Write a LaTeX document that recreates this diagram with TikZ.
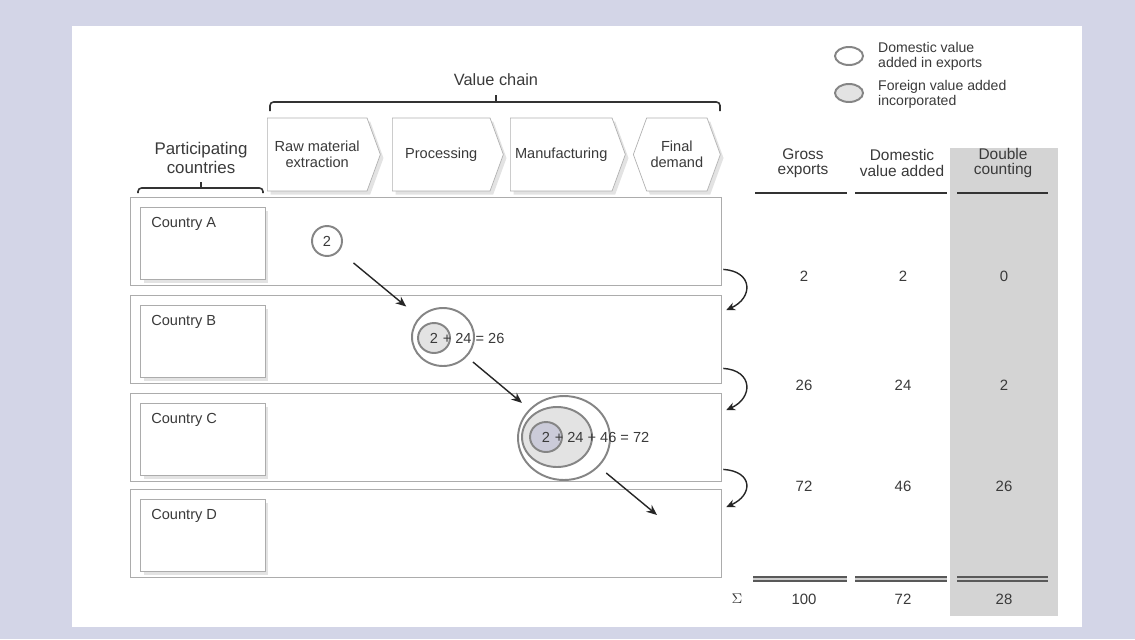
\documentclass[tikz,border=0pt]{standalone}
\usepackage{fontspec}
\setmainfont{Liberation Sans}
\usetikzlibrary{shapes.geometric,shapes.symbols,shadows,arrows.meta,calc}

\definecolor{lavender}{HTML}{D3D5E7}
\definecolor{ink}{HTML}{3A3A3A}
\definecolor{ringgray}{HTML}{858585}
\definecolor{colgray}{HTML}{D4D4D4}
\definecolor{foreign}{HTML}{E3E3E3}
\definecolor{foreigndeep}{HTML}{CBCBD9}

\begin{document}
\begin{tikzpicture}[x=0.02cm,y=-0.02cm,
  font=\fontsize{8.3}{9.3}\selectfont,text=ink,
  boxshadow/.style={drop shadow={opacity=.22,shadow xshift=1.8pt,shadow yshift=-2pt}},
  stage/.style={signal,signal to=east,signal pointer angle=140,draw=gray!60,
    fill=white,align=center,anchor=west,minimum height=1.46cm,inner sep=1pt,boxshadow},
  rowbox/.style={draw=gray!65,line width=.8pt,anchor=north west,
    minimum width=11.82cm,minimum height=1.76cm},
  cbox/.style={draw=gray!65,fill=white,anchor=north west,
    minimum width=2.5cm,minimum height=1.44cm,boxshadow},
  ctext/.style={anchor=base west,inner sep=0pt},
  ring/.style={ellipse,draw=ringgray,line width=1.1pt,inner sep=0pt},
  sumtext/.style={anchor=west,inner sep=0pt},
  flow/.style={-{Stealth[length=6pt,width=5pt]},line width=.8pt,black!85},
  hop/.style={-{Stealth[length=5pt,width=4.5pt]},line width=.8pt,black!85},
  head/.style={align=center,font=\fontsize{8.8}{8.8}\selectfont},
  num/.style={font=\fontsize{8.5}{8.5}\selectfont},
  rule/.style={line width=1.3pt,black!80},
  total/.style={double=gray!40,double distance=1.1pt,line width=.9pt,draw=black!65},
  bracket/.style={line width=.9pt,black!80,rounded corners=2pt}]

  % frame
  \fill[lavender] (0,0) rectangle (1135,639);
  \fill[white] (72,26) rectangle (1082,627);
  \useasboundingbox (0,0) rectangle (1135,639);

  % double counting column
  \fill[colgray] (950,148) rectangle (1058,616);

  % legend
  \node[ring,minimum width=.56cm,minimum height=.36cm,fill=white] (legdom) at (849,56) {};
  \node[ring,minimum width=.56cm,minimum height=.36cm,fill=foreign] (legfor) at (849,93) {};
  \node[anchor=west,align=left,font=\fontsize{8}{8.6}\selectfont] (legdomtext) at (872,56) {Domestic value\\added in exports};
  \node[anchor=west,align=left,font=\fontsize{8}{8.6}\selectfont] (legfortext) at (872,94) {Foreign value added\\incorporated};

  % value chain
  \node[font=\fontsize{9.3}{9.3}\selectfont] (chain) at (496,80) {Value chain};
  \draw[bracket] (270,111) -- (270,102) -- (720,102) -- (720,111);
  \draw[bracket] (496,102) -- (496,95);
  \node[stage,minimum width=2.26cm] (raw) at (267,154.5) {Raw material\\extraction};
  \node[stage,minimum width=2.22cm] (proc) at (392,154.5) {Processing};
  \node[stage,minimum width=2.30cm] (manu) at (510,154.5) {Manufacturing};
  \node[stage,signal to=east and west,minimum width=1.74cm] (final) at (633,154.5) {Final\\demand};

  % participating countries
  \node[align=center,font=\fontsize{9.6}{10.4}\selectfont] (part) at (201,158) {Participating\\countries};
  \draw[bracket] (138,193) -- (138,188) -- (263,188) -- (263,193);
  \draw[bracket] (201,188) -- (201,182);

  \foreach \c/\y in {A/197,B/295,C/393,D/489} {
    \node[rowbox] (row\c) at (130,\y) {};
    \node[cbox] (box\c) at (140,\y+10) {};
    \node[ctext] (name\c) at (151,\y+30) {Country \c};
  }

  % value added rings
  \node[ring,minimum size=.6cm] (ringA) at (327,241) {2};

  \node[ring,minimum width=1.24cm,minimum height=1.16cm] (outerB) at (443,337) {};
  \node[ring,fill=foreign,minimum width=.64cm,minimum height=.6cm] (innerB) at (434,338) {2};
  \node[sumtext] (sumB) at ([xshift=4.8pt]innerB.center) {+ 24 = 26};

  \node[ring,minimum width=1.84cm,minimum height=1.68cm] (outerC) at (564,438) {};
  \node[ring,fill=foreign,minimum width=1.4cm,minimum height=1.2cm] (midC) at (557,437) {};
  \node[ring,fill=foreigndeep,minimum width=.64cm,minimum height=.6cm] (innerC) at (546,437) {2};
  \node[sumtext] (sumC) at ([xshift=4.8pt]innerC.center) {+ 24 + 46 = 72};

  \coordinate (endD) at (657,515);
  \draw[flow,shorten <=10.5pt,shorten >=9.5pt] (ringA) -- (outerB);
  \draw[flow,shorten <=4.5pt,shorten >=5.5pt] (outerB) -- (outerC);
  \draw[flow,shorten <=5.5pt] (outerC) -- (endD);

  % hand-over between countries
  \draw[hop] ($(rowA.south east)+(1,-17)$) .. controls +(30,2) and +(27,-12) .. ($(rowB.north east)+(4,15)$);
  \draw[hop] ($(rowB.south east)+(1,-16)$) .. controls +(30,2) and +(27,-12) .. ($(rowC.north east)+(4,17)$);
  \draw[hop] ($(rowC.south east)+(1,-13)$) .. controls +(30,2) and +(27,-12) .. ($(rowD.north east)+(4,18)$);

  % table
  \node[head] (gross) at (803,163) {Gross\\exports};
  \node[head] (dva) at (902,163) {Domestic\\value added};
  \node[head] (dbl) at (1003,163) {Double\\counting};
  \draw[rule] (755,193) -- (847,193);
  \draw[rule] (855,193) -- (947,193);
  \draw[rule] (957,193) -- (1048,193);

  \foreach \g/\d/\b/\y in {2/2/0/276,26/24/2/385,72/46/26/486} {
    \node[num] (g\y) at (804,\y) {\g};
    \node[num] (d\y) at (903,\y) {\d};
    \node[num] (b\y) at (1004,\y) {\b};
  }

  \draw[total] (753,579) -- (847,579);
  \draw[total] (855,579) -- (947,579);
  \draw[total] (957,579) -- (1048,579);
  \node[num] (sigma) at (737,599) {$\Sigma$};
  \node[num] (gsum) at (804,599) {100};
  \node[num] (dsum) at (903,599) {72};
  \node[num] (bsum) at (1004,599) {28};
\end{tikzpicture}
\end{document}
